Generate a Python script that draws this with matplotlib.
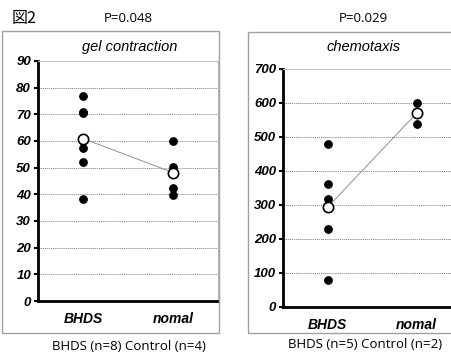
import matplotlib.pyplot as plt
from matplotlib.patches import Rectangle

groups = ['BHDS', 'nomal']

gel_bhds = [77, 71, 70.5, 61, 60, 57.5, 52, 38.3]
gel_nomal = [60, 50.3, 42.5, 39.8]
chemo_bhds = [478, 361, 317, 228, 79]
chemo_nomal = [600, 539]

mean = lambda v: sum(v) / len(v)

fig = plt.figure(figsize=(4.51, 3.53), dpi=100)
W, H = 451, 353

def frame(x0, y0, x1, y1):
    fig.patches.append(Rectangle((x0 / W, 1 - y1 / H), (x1 - x0) / W, (y1 - y0) / H,
                                 transform=fig.transFigure, fill=False,
                                 edgecolor='#a0a0a0', linewidth=1.0))

def panel(rect, a, b, ymax, step):
    ax = fig.add_axes(rect)
    ax.scatter([0] * len(a), a, s=28, color='black', zorder=3)
    ax.scatter([1] * len(b), b, s=28, color='black', zorder=3)
    ma, mb = mean(a), mean(b)
    ax.plot([0, 1], [ma, mb], color='#909090', lw=0.7, zorder=2)
    ax.scatter([0, 1], [ma, mb], s=55, facecolor='white', edgecolor='black',
               linewidth=1.2, zorder=4)
    ax.set_xlim(-0.5, 1.5)
    ax.set_ylim(0, ymax)
    ax.set_yticks(range(0, ymax + 1, step))
    ax.set_xticks([0, 1])
    ax.set_xticklabels(groups, fontsize=10, fontweight='bold', fontstyle='italic')
    for t in ax.get_yticklabels():
        t.set_fontsize(9.5)
        t.set_fontweight('bold')
        t.set_fontstyle('italic')
    ax.tick_params(axis='x', length=0, pad=8)
    ax.tick_params(axis='y', length=3, width=1.5, pad=2)
    ax.grid(axis='y', color='#808080', linestyle=(0, (1.5, 1)), linewidth=0.6)
    ax.set_axisbelow(True)
    ax.spines['left'].set_linewidth(2)
    ax.spines['bottom'].set_linewidth(2)
    ax.spines['top'].set_color('#c0c0c0')
    ax.spines['top'].set_linewidth(0.8)
    ax.spines['right'].set_color('#c0c0c0')
    ax.spines['right'].set_linewidth(0.8)
    return ax

plt.rcParams['font.family'] = ['Liberation Sans', 'DejaVu Sans']

frame(2, 31, 219, 333)
frame(248, 32, 460, 333)

panel([38 / W, 1 - 301 / H, 180 / W, 240 / H], gel_bhds, gel_nomal, 90, 10)
panel([283 / W, 1 - 306.7 / H, 178 / W, 237.7 / H], chemo_bhds, chemo_nomal, 700, 100)

fig.text(130 / W, 1 - 47 / H, 'gel contraction', ha='center', va='center',
         fontsize=10.5, fontstyle='italic')
fig.text(364 / W, 1 - 47 / H, 'chemotaxis', ha='center', va='center',
         fontsize=10.5, fontstyle='italic')

fig.text(12 / W, 1 - 18 / H, '図2', ha='left', va='center', fontsize=11.5,
         family=['Noto Sans CJK JP', 'DejaVu Sans'])
fig.text(128 / W, 1 - 18 / H, 'P=0.048', ha='center', va='center', fontsize=9.5,
         family=['Open Sans', 'DejaVu Sans'])
fig.text(363 / W, 1 - 18 / H, 'P=0.029', ha='center', va='center', fontsize=9.5,
         family=['Open Sans', 'DejaVu Sans'])
fig.text(129 / W, 1 - 346 / H, 'BHDS (n=8) Control (n=4)', ha='center', va='center',
         fontsize=9.5, family=['Open Sans', 'DejaVu Sans'])
fig.text(365 / W, 1 - 345 / H, 'BHDS (n=5) Control (n=2)', ha='center', va='center',
         fontsize=9.5, family=['Open Sans', 'DejaVu Sans'])

fig.savefig('out.png', dpi=100)
